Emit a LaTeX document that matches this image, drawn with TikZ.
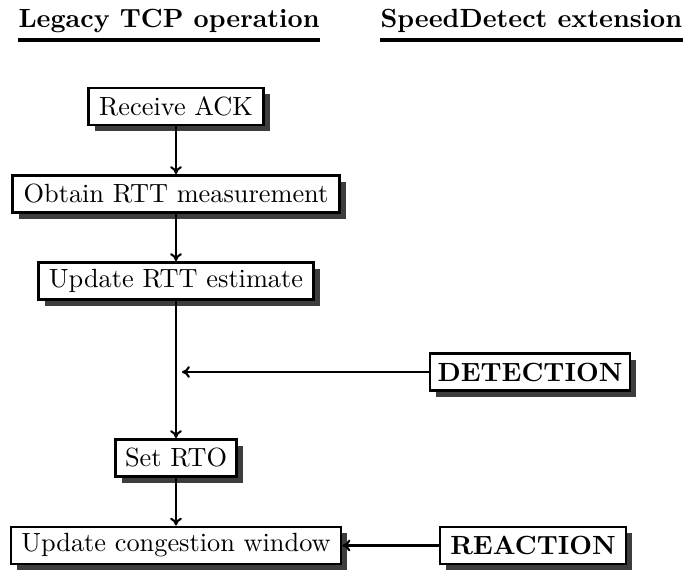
\documentclass[tikz,border=0pt]{standalone}
\usetikzlibrary{shadows,arrows.meta}
\begin{document}
\begin{tikzpicture}[x=0.38pt,y=-0.38pt,
  flowbox/.style={draw, line width=1.1pt, fill=white, inner sep=0pt,
    minimum height=37*0.38pt,
    drop shadow={shadow xshift=2.3pt, shadow yshift=-2.3pt, fill=black!76, opacity=1}},
  heading/.style={font=\bfseries, inner sep=0pt, anchor=base west},
  flow/.style={line width=0.8pt, -{To[length=3pt,width=4.5pt]}}]
\useasboundingbox (0,0) rectangle (687,570);

\node[heading] (h1) at (18,28) {Legacy TCP operation};
\node[heading] (h2) at (380,28) {SpeedDetect extension};
\draw[line width=1.3pt] ([yshift=-4.6pt]h1.base west) -- ([yshift=-4.6pt]h1.base east);
\draw[line width=1.3pt] ([yshift=-4.6pt]h2.base west) -- ([yshift=-4.6pt]h2.base east);

\node[flowbox, minimum width=175*0.38pt] (ack) at (176,106.5) {Receive ACK};
\node[flowbox, minimum width=327*0.38pt] (obt) at (176,194) {Obtain RTT measurement};
\node[flowbox, minimum width=275*0.38pt] (upd) at (176,281) {Update RTT estimate};
\node[flowbox, minimum width=121*0.38pt] (rto) at (176,458) {Set RTO};
\node[flowbox, minimum width=330*0.38pt] (cwn) at (176,545.5) {Update congestion window};
\node[flowbox, minimum width=200*0.38pt, font=\bfseries] (det) at (530,372) {DETECTION};
\node[flowbox, minimum width=186*0.38pt, font=\bfseries] (rea) at (533,545.5) {REACTION};
\coordinate (dtip) at (182,372);

\draw[flow] (ack) -- (obt);
\draw[flow] (obt) -- (upd);
\draw[flow] (upd) -- (rto);
\draw[flow] (rto) -- (cwn);
\draw[flow] (det) -- (dtip);
\draw[flow] (rea) -- (cwn);
\end{tikzpicture}
\end{document}
